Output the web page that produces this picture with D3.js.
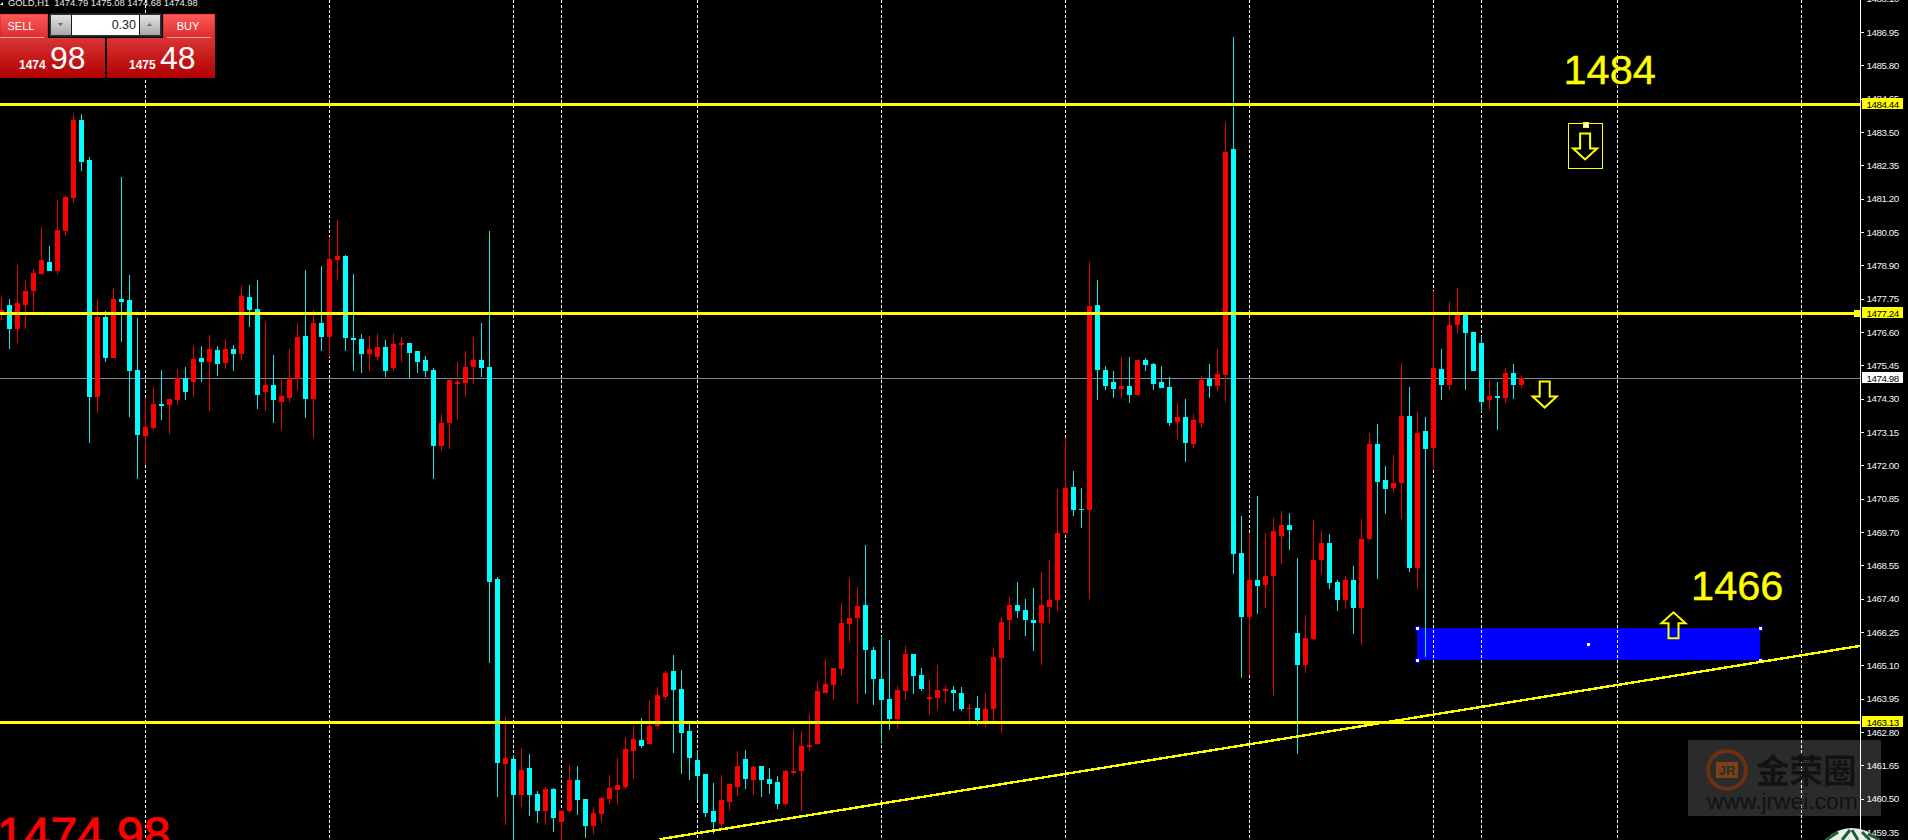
<!DOCTYPE html>
<html>
<head>
<meta charset="utf-8">
<title>GOLD,H1</title>
<script src="https://cdn.jsdelivr.net/npm/d3@7"></script>
<style>
  html, body { margin: 0; padding: 0; background: #000; overflow: hidden; }
  svg { display: block; font-family: "Liberation Sans", Arial, sans-serif; }
  .axis text { font-size: 9.8px; letter-spacing: -0.45px; fill: #eef4fa; }
  .axis line, .axis path { stroke: #fff; }
</style>
</head>
<body>
<svg id="chart" width="1908" height="840"></svg>
<script>
// one value per hourly bar
var opens = [
  1477.18,1477.53,1476.70,1477.53,1478.01,1478.60,1479.01,1478.67,1480.08,1481.22,
  1483.91,1482.50,1474.35,1477.11,1475.70,1477.73,1477.67,1475.28,1473.01,1473.28,
  1474.11,1474.08,1474.25,1475.01,1474.87,1475.70,1475.56,1475.97,1475.53,1476.01,
  1475.84,1477.80,1477.39,1474.53,1474.77,1474.18,1474.32,1474.97,1476.46,1474.28,
  1476.91,1476.42,1479.08,1479.22,1476.39,1476.35,1475.84,1475.73,1476.08,1475.35,
  1476.15,1476.22,1475.91,1475.60,1475.28,1472.66,1473.46,1474.80,1474.84,1475.39,
  1475.63,1475.39,1468.07,1461.69,1461.86,1460.62,1461.55,1460.66,1460.04,1460.83,
  1459.69,1460.07,1461.11,1460.48,1459.55,1459.97,1460.48,1460.79,1460.90,1462.14,
  1462.52,1462.38,1463.00,1464.00,1464.90,1464.28,1462.80,1461.83,1461.35,1460.04,
  1459.62,1460.38,1460.90,1461.86,1461.11,1461.62,1461.17,1461.07,1460.31,1461.38,
  1461.42,1462.28,1462.38,1464.14,1464.42,1464.97,1466.52,1466.73,1467.18,1465.62,
  1464.62,1463.93,1463.24,1464.18,1465.49,1464.76,1463.93,1463.97,1464.21,1464.24,
  1464.14,1463.59,1463.62,1463.14,1463.59,1465.35,1466.66,1467.18,1467.00,1466.63,
  1466.56,1467.11,1467.32,1469.66,1471.25,1470.49,1470.45,1477.53,1475.28,1474.87,
  1474.63,1474.73,1474.42,1475.60,1475.49,1474.87,1474.70,1473.49,1473.66,1472.73,
  1473.46,1474.97,1474.73,1475.11,1482.91,1468.97,1466.76,1468.04,1467.87,1468.18,
  1469.56,1469.94,1466.21,1465.11,1466.00,1468.70,1469.32,1467.97,1467.32,1468.04,
  1467.07,1469.45,1472.73,1471.49,1471.21,1471.39,1473.70,1468.45,1473.15,1472.59,
  1475.32,1474.77,1476.84,1477.24,1476.60,1476.22,1474.22,1474.39,1474.32,1475.18,1474.77
];
var highs = [
  1477.80,1477.73,1478.91,1478.39,1478.77,1480.22,1479.56,1481.12,1481.29,1484.12,
  1484.12,1482.63,1477.73,1477.32,1478.11,1481.94,1478.56,1477.08,1474.32,1474.70,
  1475.28,1474.32,1475.32,1475.39,1476.11,1476.11,1476.49,1476.11,1476.35,1476.15,
  1478.18,1478.22,1478.36,1476.94,1475.80,1475.01,1476.01,1476.91,1478.73,1477.35,
  1478.87,1479.87,1480.46,1479.25,1478.60,1476.53,1476.46,1476.53,1476.29,1476.53,
  1476.42,1476.22,1475.91,1475.77,1475.35,1473.77,1474.94,1475.56,1475.91,1476.42,
  1476.91,1480.08,1468.14,1463.31,1462.00,1462.24,1462.04,1460.76,1460.90,1460.86,
  1460.10,1461.66,1461.62,1460.48,1460.21,1460.55,1461.31,1461.90,1462.62,1463.00,
  1463.28,1463.87,1464.35,1464.90,1465.45,1464.93,1463.07,1462.17,1461.35,1461.04,
  1461.31,1461.04,1462.14,1462.17,1461.62,1461.62,1461.55,1461.28,1461.48,1462.86,
  1462.80,1463.42,1464.52,1465.31,1465.00,1467.25,1468.11,1467.80,1469.25,1465.73,
  1466.11,1465.97,1464.38,1465.76,1465.49,1465.00,1464.62,1465.11,1464.38,1464.38,
  1464.35,1463.76,1464.04,1464.14,1465.69,1466.76,1467.45,1467.97,1467.38,1467.76,
  1468.32,1468.73,1471.18,1472.94,1471.80,1471.21,1479.01,1478.36,1475.42,1475.25,
  1475.73,1475.73,1475.63,1475.70,1475.53,1475.42,1475.04,1474.15,1474.28,1473.77,
  1475.08,1475.49,1476.01,1483.84,1486.77,1470.25,1469.66,1470.94,1469.66,1470.18,
  1470.39,1470.35,1468.80,1466.83,1470.08,1469.70,1469.63,1468.04,1468.18,1468.52,
  1470.14,1473.11,1473.42,1471.97,1472.35,1475.53,1474.70,1473.84,1473.66,1477.98,
  1476.01,1477.63,1478.11,1477.24,1476.60,1476.46,1474.91,1474.87,1475.35,1475.49,1475.08
];
var lows = [
  1476.98,1476.01,1476.22,1476.70,1477.32,1478.56,1478.70,1478.60,1479.91,1481.05,
  1482.15,1472.77,1473.80,1475.56,1475.70,1476.25,1473.66,1471.52,1471.98,1473.21,
  1473.53,1473.08,1474.08,1474.25,1474.35,1474.87,1473.87,1475.08,1475.32,1475.22,
  1475.63,1476.77,1473.94,1473.87,1473.46,1473.21,1474.18,1474.59,1473.63,1472.94,
  1475.94,1475.73,1478.36,1475.94,1475.22,1475.18,1475.25,1475.60,1475.04,1475.25,
  1475.56,1475.01,1475.18,1475.04,1471.52,1472.46,1472.56,1473.56,1474.35,1474.80,
  1475.04,1465.18,1460.55,1459.59,1459.07,1460.21,1459.90,1459.66,1459.59,1459.35,
  1459.07,1460.00,1459.93,1459.14,1459.28,1459.69,1460.31,1460.28,1460.83,1461.17,
  1462.24,1462.38,1462.90,1463.87,1462.07,1461.35,1461.11,1460.45,1459.86,1459.28,
  1459.45,1460.10,1460.59,1460.83,1460.62,1460.55,1460.66,1460.14,1460.24,1461.31,
  1460.07,1462.14,1462.38,1464.14,1463.90,1464.73,1465.90,1463.80,1464.11,1463.73,
  1462.45,1462.86,1462.90,1463.90,1464.11,1464.18,1463.38,1463.55,1463.80,1463.52,
  1463.52,1463.04,1463.04,1462.97,1463.14,1462.76,1465.94,1466.73,1466.11,1465.56,
  1465.11,1466.56,1466.97,1469.66,1470.25,1469.83,1467.38,1474.22,1474.59,1474.32,
  1474.32,1474.15,1474.39,1475.25,1474.59,1474.66,1473.35,1472.84,1472.11,1472.59,
  1473.28,1474.32,1474.56,1474.18,1468.25,1464.66,1464.76,1466.87,1467.07,1464.04,
  1468.59,1469.07,1462.04,1464.83,1465.97,1468.25,1467.73,1466.97,1467.04,1466.18,
  1465.80,1469.42,1468.07,1470.32,1471.04,1470.14,1468.32,1467.73,1465.38,1471.87,
  1474.22,1474.59,1476.56,1474.59,1475.25,1473.84,1473.90,1473.21,1474.15,1474.28,1474.66
];
var closes = [
  1477.35,1476.70,1477.60,1478.01,1478.63,1479.05,1478.70,1480.11,1481.25,1483.88,
  1482.46,1474.35,1477.11,1475.70,1477.73,1477.63,1475.25,1473.04,1473.32,1474.11,
  1474.04,1474.28,1475.01,1474.53,1475.66,1475.56,1476.01,1475.49,1476.01,1475.84,
  1477.84,1477.35,1474.42,1474.77,1474.22,1474.39,1475.01,1476.42,1474.28,1476.91,
  1476.42,1479.11,1479.22,1476.39,1476.29,1475.84,1476.01,1476.08,1475.25,1476.18,
  1476.22,1475.87,1475.56,1475.25,1472.66,1473.46,1474.91,1474.87,1475.39,1475.63,
  1475.35,1467.97,1461.73,1461.90,1460.62,1461.48,1460.62,1460.04,1460.83,1459.83,
  1460.04,1461.14,1460.42,1459.55,1460.00,1460.52,1460.86,1460.97,1462.21,1462.55,
  1462.31,1463.00,1464.07,1464.83,1464.24,1462.76,1461.90,1461.28,1460.00,1459.69,
  1460.42,1461.00,1461.62,1461.17,1461.59,1461.14,1461.00,1460.31,1461.42,1461.45,
  1462.31,1462.35,1464.18,1464.45,1465.00,1466.56,1466.73,1467.14,1465.62,1464.62,
  1463.87,1463.24,1464.24,1465.49,1464.73,1464.28,1464.00,1464.24,1464.28,1464.14,
  1463.59,1463.62,1463.21,1463.59,1465.38,1466.59,1467.18,1466.94,1466.63,1466.56,
  1467.18,1467.35,1469.66,1471.21,1470.45,1470.45,1477.49,1475.28,1474.73,1474.63,
  1474.73,1474.42,1475.63,1475.46,1474.80,1474.66,1473.46,1473.66,1472.77,1473.53,
  1474.94,1474.73,1475.15,1482.81,1468.94,1466.76,1468.01,1467.83,1468.18,1469.70,
  1469.94,1469.76,1465.11,1466.04,1468.70,1469.32,1467.94,1467.32,1468.04,1467.07,
  1469.45,1472.73,1471.42,1471.18,1471.39,1473.70,1468.45,1473.11,1472.56,1475.35,
  1474.77,1476.84,1477.24,1476.56,1475.25,1474.18,1474.39,1474.32,1475.18,1474.77,1475.01
];
var separatorBars = [18, 41, 64, 70, 87, 110, 133, 156, 179, 185, 202, 225];
var priceTicks = [1488.10,1486.95,1485.80,1484.65,1483.50,1482.35,1481.20,1480.05,1478.90,1477.75,
  1476.60,1475.45,1474.30,1473.15,1472.00,1470.85,1469.70,1468.55,1467.40,1466.25,1465.10,
  1463.95,1462.80,1461.65,1460.50,1459.35];
var levelPrices = [1484.44, 1477.24, 1463.13];
var lastPrice = 1474.98;
var trendBars = [82.25, 232.3];
var trendPrices = [1459.1, 1465.77];
var zoneBars = [177, 219.875];
var zonePrices = [1466.38, 1465.28];
var arrowMarks = [
  {dir: "down", bar: 192.9, price: 1474.44},
  {dir: "down", bar: 197.95, price: 1483.00},
  {dir: "up", bar: 209, price: 1466.48}
];
var priceNotes = [
  {text: "1484", bar: 195.25, price: 1485.14},
  {text: "1466", bar: 211.2, price: 1467.35}
];

var svg = d3.select("#chart"),
    axisX = 1860,
    bodyWidth = 5;

// 8px per bar
var x = d3.scaleLinear().domain([0, 190]).range([1.5, 1521.5]);
var y = d3.scaleLinear().domain([1486.95, 1459.35]).range([32, 832]);
function py(price) { return Math.floor(y(price)); }

var bars = opens.map(function(o, i) {
  return {i: i, open: o, high: highs[i], low: lows[i], close: closes[i]};
});

svg.append("rect").attr("width", 1908).attr("height", 840).attr("fill", "#000");

// things under the candles first
var chart = svg.append("g").attr("shape-rendering", "crispEdges");

chart.append("rect")
  .attr("x", Math.floor(x(zoneBars[0])))
  .attr("y", py(zonePrices[0]))
  .attr("width", Math.floor(x(zoneBars[1])) - Math.floor(x(zoneBars[0])))
  .attr("height", py(zonePrices[1]) - py(zonePrices[0]))
  .attr("fill", "#0000ff");

chart.selectAll(".separator")
  .data(separatorBars)
  .enter().append("line")
    .attr("class", "separator")
    .attr("x1", function(d) { return x(d) })
    .attr("x2", function(d) { return x(d) })
    .attr("y1", 0)
    .attr("y2", 840)
    .attr("stroke", "#fff")
    .attr("stroke-dasharray", "3,2");

chart.append("rect")
  .attr("x", 0).attr("y", py(lastPrice))
  .attr("width", axisX).attr("height", 1)
  .attr("fill", "#778899");

var candle = chart.selectAll(".candle")
  .data(bars)
  .enter().append("g")
    .attr("class", "candle");

candle.append("rect")
  .attr("x", function(d) { return x(d.i) - 0.5 })
  .attr("width", 1)
  .attr("y", function(d) { return py(d.high) })
  .attr("height", function(d) { return py(d.low) - py(d.high) })
  .attr("fill", function(d) { return d.close > d.open ? "#e80000" : "#14e6e6" });

candle.append("rect")
  .attr("x", function(d) { return x(d.i) - bodyWidth / 2 })
  .attr("width", bodyWidth)
  .attr("y", function(d) { return py(Math.max(d.open, d.close)) })
  .attr("height", function(d) { return Math.max(1, py(Math.min(d.open, d.close)) - py(Math.max(d.open, d.close))) })
  .attr("fill", function(d) { return d.close > d.open ? "#ff0000" : "#00ffff" });

// handles of the selected zone
var zoneX = [Math.floor(x(zoneBars[0])), Math.floor(x(zoneBars[1]))],
    zoneY = [py(zonePrices[0]), py(zonePrices[1])];
var handles = [[zoneX[0], zoneY[0]], [zoneX[0], zoneY[1]], [zoneX[1], zoneY[0]], [zoneX[1], zoneY[1]],
  [(zoneX[0] + zoneX[1]) / 2, (zoneY[0] + zoneY[1]) / 2]];
chart.selectAll(".handle")
  .data(handles)
  .enter().append("rect")
    .attr("class", "handle")
    .attr("x", function(d) { return d[0] - 2 })
    .attr("y", function(d) { return d[1] - 2 })
    .attr("width", 4)
    .attr("height", 4)
    .attr("fill", "#fff")
    .attr("stroke", "#0000ff");

// trend line, left aliased like the terminal draws it
svg.append("line")
  .attr("x1", x(trendBars[0])).attr("y1", y(trendPrices[0]))
  .attr("x2", x(trendBars[1])).attr("y2", y(trendPrices[1]))
  .attr("stroke", "#ffff00")
  .attr("stroke-width", 2.4)
  .attr("shape-rendering", "crispEdges");

chart.selectAll(".level")
  .data(levelPrices)
  .enter().append("rect")
    .attr("class", "level")
    .attr("x", 0)
    .attr("y", function(d) { return py(d) - 1 })
    .attr("width", axisX)
    .attr("height", 3)
    .attr("fill", "#ffff00");
svg.append("g").attr("shape-rendering", "crispEdges").append("rect")
  .attr("x", axisX - 6).attr("y", py(levelPrices[1]) - 3)
  .attr("width", 6).attr("height", 7)
  .attr("fill", "#ffff00");

// hollow wingdings-style arrows
function arrowPath(dir) {
  var s = dir === "down" ? 1 : -1;
  var pts = [[-5, -13], [5, -13], [5, 2], [12, 2], [0, 13], [-12, 2], [-5, 2]];
  return "M" + pts.map(function(p) { return p[0] + "," + (p[1] * s) }).join("L") + "Z";
}
svg.selectAll(".arrow")
  .data(arrowMarks)
  .enter().append("path")
    .attr("class", "arrow")
    .attr("transform", function(d) { return "translate(" + x(d.bar) + "," + y(d.price) + ")" })
    .attr("d", function(d) { return arrowPath(d.dir) })
    .attr("fill", "none")
    .attr("stroke", "#ffff00")
    .attr("stroke-width", 2);

// box around the arrow below the 1484 label
svg.append("rect")
  .attr("x", 1568.5).attr("y", 123.5).attr("width", 34).attr("height", 45)
  .attr("fill", "none").attr("stroke", "#ffff00").attr("stroke-width", 1)
  .attr("shape-rendering", "crispEdges");
svg.append("rect")
  .attr("x", 1583).attr("y", 122).attr("width", 5).attr("height", 5)
  .attr("fill", "#fff").attr("stroke", "#ffff00").attr("shape-rendering", "crispEdges");

svg.selectAll(".note")
  .data(priceNotes)
  .enter().append("text")
    .attr("class", "note")
    .attr("x", function(d) { return x(d.bar) })
    .attr("y", function(d) { return y(d.price) })
    .attr("font-size", 41.5)
    .attr("fill", "#ffff00")
    .attr("stroke", "#ffff00")
    .attr("stroke-width", 0.4)
    .text(function(d) { return d.text });

svg.append("text")
  .attr("x", -3).attr("y", 851)
  .attr("font-size", 48)
  .attr("fill", "#ff0000")
  .attr("stroke", "#ff0000")
  .attr("stroke-width", 1)
  .text(d3.format(".2f")(lastPrice));

// price axis
var axis = svg.append("g")
  .attr("class", "axis")
  .attr("transform", "translate(" + (axisX + 0.5) + ",0)")
  .call(d3.axisRight(y).tickValues(priceTicks).tickSize(3).tickSizeOuter(0).tickPadding(3).tickFormat(d3.format(".2f")));
axis.select(".domain").attr("d", "M0,0V840").attr("shape-rendering", "crispEdges");
axis.selectAll("line").attr("shape-rendering", "crispEdges");

var tags = [
  {price: levelPrices[0], fill: "#ffff00"},
  {price: levelPrices[1], fill: "#ffff00"},
  {price: levelPrices[2], fill: "#ffff00"},
  {price: lastPrice, fill: "#ffffff"}
];
var tag = svg.selectAll(".tag")
  .data(tags)
  .enter().append("g")
    .attr("class", "tag")
    .attr("transform", function(d) { return "translate(1862," + py(d.price) + ")" });
tag.append("rect")
  .attr("y", -6).attr("width", 41).attr("height", 11)
  .attr("fill", function(d) { return d.fill })
  .attr("shape-rendering", "crispEdges");
tag.append("text")
  .attr("x", 4.5).attr("y", 3.5)
  .attr("font-size", 9.8)
  .attr("letter-spacing", -0.45)
  .attr("fill", "#000")
  .text(function(d) { return d3.format(".2f")(d.price) });

// one-click trading panel
var defs = svg.append("defs");
function gradient(id, top, bottom) {
  var g = defs.append("linearGradient").attr("id", id).attr("x1", 0).attr("y1", 0).attr("x2", 0).attr("y2", 1);
  g.append("stop").attr("offset", 0).attr("stop-color", top);
  g.append("stop").attr("offset", 1).attr("stop-color", bottom);
}
gradient("btnTop", "#ff5a5a", "#d92b2b");
gradient("btnPrice", "#d93434", "#b00000");
gradient("spin", "#e4e4e4", "#a8a8a8");

var panel = svg.append("g");
panel.append("path").attr("d", "M0,5L3,2V5Z").attr("fill", "#fff");
panel.append("text")
  .attr("x", 8).attr("y", 6)
  .attr("font-size", 9.4)
  .attr("fill", "#e8e8e8")
  .attr("xml:space", "preserve")
  .text("GOLD,H1  1474.79 1475.08 1474.68 1474.98");

panel.append("rect").attr("x", 0).attr("y", 14).attr("width", 48).attr("height", 25).attr("fill", "url(#btnTop)").attr("stroke", "#a01010").attr("stroke-width", 0.5);
panel.append("rect").attr("x", 163).attr("y", 14).attr("width", 52).attr("height", 25).attr("fill", "url(#btnTop)").attr("stroke", "#a01010").attr("stroke-width", 0.5);
panel.append("rect").attr("x", 0).attr("y", 37).attr("width", 44).attr("height", 1).attr("fill", "#f0a0a0");
panel.append("rect").attr("x", 167).attr("y", 37).attr("width", 44).attr("height", 1).attr("fill", "#f0a0a0");
panel.append("text").attr("x", 21).attr("y", 30).attr("text-anchor", "middle").attr("font-size", 11).attr("fill", "#fff").text("SELL");
panel.append("text").attr("x", 188).attr("y", 30).attr("text-anchor", "middle").attr("font-size", 11).attr("fill", "#fff").text("BUY");

panel.append("rect").attr("x", 48).attr("y", 13).attr("width", 115).attr("height", 25).attr("fill", "#000");
panel.append("rect").attr("x", 50).attr("y", 14).attr("width", 111).attr("height", 22).attr("fill", "#1a1a1a").attr("stroke", "#777").attr("stroke-width", 0.5);
panel.append("rect").attr("x", 72).attr("y", 15).attr("width", 67).attr("height", 20).attr("fill", "#fff");
panel.append("rect").attr("x", 51).attr("y", 15).attr("width", 20).attr("height", 20).attr("fill", "url(#spin)");
panel.append("rect").attr("x", 140).attr("y", 15).attr("width", 20).attr("height", 20).attr("fill", "url(#spin)");
panel.append("path").attr("d", "M58,23H63L60.5,26Z").attr("fill", "#5a64a0");
panel.append("path").attr("d", "M147,26H152L149.5,23Z").attr("fill", "#5a64a0");
panel.append("text").attr("x", 136).attr("y", 29).attr("text-anchor", "end").attr("font-size", 12.5).attr("fill", "#222").text("0.30");

panel.append("rect").attr("x", 0).attr("y", 38).attr("width", 105).attr("height", 40).attr("fill", "url(#btnPrice)");
panel.append("rect").attr("x", 107).attr("y", 38).attr("width", 108).attr("height", 40).attr("fill", "url(#btnPrice)");
var quotes = [
  {big: "1474", small: "98", x1: 19, x2: 50},
  {big: "1475", small: "48", x1: 129, x2: 160}
];
quotes.forEach(function(q) {
  panel.append("text").attr("x", q.x1).attr("y", 69).attr("font-size", 12).attr("font-weight", "bold").attr("fill", "#fff").text(q.big);
  panel.append("text").attr("x", q.x2).attr("y", 69).attr("font-size", 32).attr("fill", "#fff").text(q.small);
});

// watermark box, sits over the axis
var mark = svg.append("g");
mark.append("rect")
  .attr("x", 1688).attr("y", 740).attr("width", 193).attr("height", 76)
  .attr("fill", "#ffffff").attr("opacity", 0.17);
mark.append("circle")
  .attr("cx", 1727).attr("cy", 770).attr("r", 19)
  .attr("fill", "none").attr("stroke", "#6b3010").attr("stroke-width", 4);
mark.append("rect")
  .attr("x", 1716).attr("y", 762).attr("width", 22).attr("height", 16)
  .attr("fill", "#7a4216");
mark.append("text")
  .attr("x", 1727).attr("y", 775).attr("text-anchor", "middle")
  .attr("font-size", 13).attr("font-weight", "bold").attr("fill", "#2b2b2b")
  .text("JR");
mark.append("text")
  .attr("x", 1756).attr("y", 783)
  .attr("font-family", "Noto Sans CJK SC").attr("font-weight", "bold")
  .attr("font-size", 33.5).attr("fill", "#121212")
  .text("金荣圈");
mark.append("text")
  .attr("x", 1707).attr("y", 809)
  .attr("font-size", 22.8).attr("fill", "#121212")
  .text("www.jrwei.com");

// medallion cut off by the bottom edge
svg.append("circle").attr("cx", 1852).attr("cy", 864).attr("r", 36).attr("fill", "#e8efe8");
svg.append("path")
  .attr("d", "M1826,840L1838,832M1842,840L1850,830M1858,840L1852,830M1870,840L1862,832M1880,840L1868,834")
  .attr("stroke", "#1f5c33").attr("stroke-width", 3).attr("fill", "none");
</script>
</body>
</html>
